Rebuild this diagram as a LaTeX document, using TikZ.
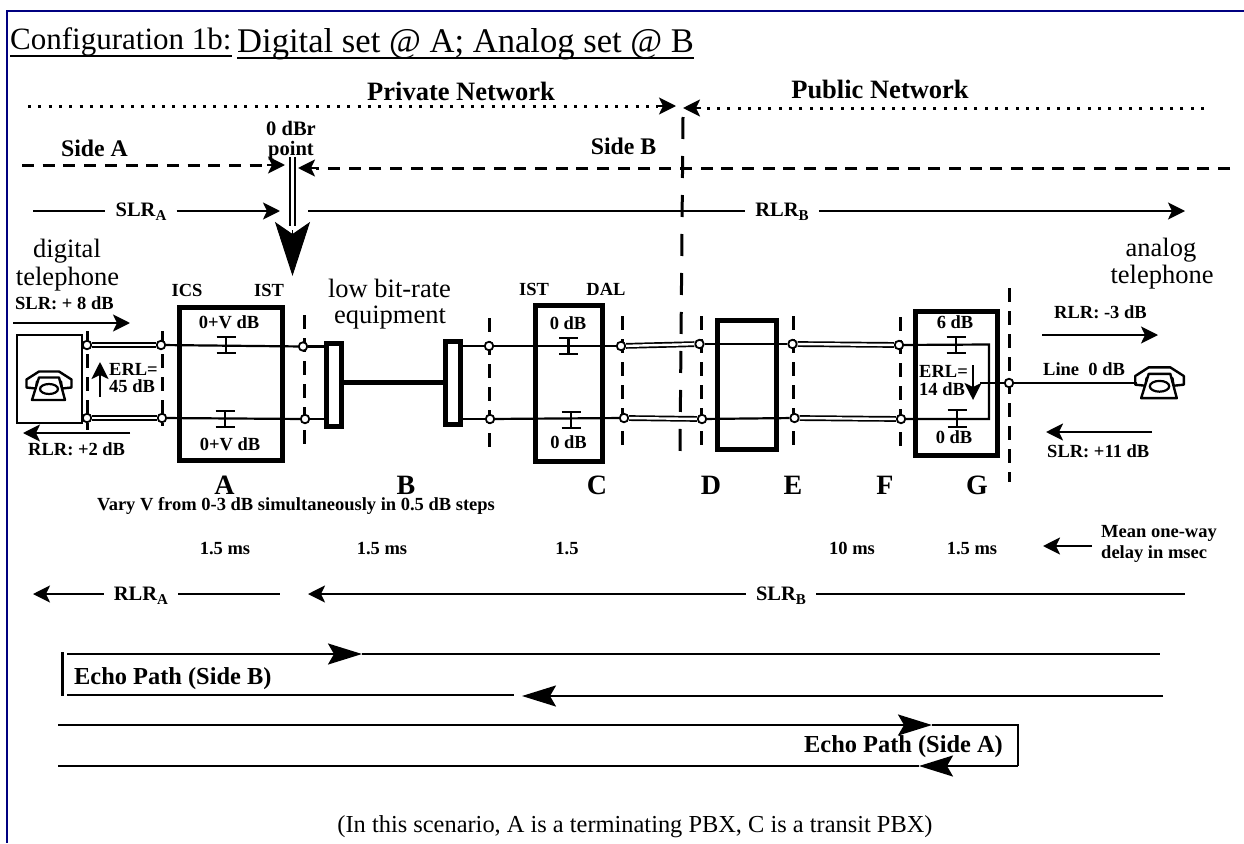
\documentclass[tikz,border=0pt]{standalone}
\usepackage{fontspec}
\setmainfont{Liberation Serif}
\usepackage{xcolor}
\usetikzlibrary{positioning}
\usetikzlibrary{arrows.meta}
\definecolor{framenavy}{RGB}{0,0,128}
\newcommand{\lowsub}[1]{\raisebox{-4pt}{\fontsize{15}{15}\selectfont #1}}
\tikzset{
    lab/.style={font=\bfseries\fontsize{18.5}{20}\selectfont, inner sep=0pt, anchor=base},
    midlab/.style={font=\bfseries\fontsize{20.5}{22}\selectfont, inner sep=0pt, anchor=base},
    biglab/.style={font=\bfseries\fontsize{26.5}{28}\selectfont, inner sep=0pt, anchor=base},
    plain/.style={font=\fontsize{26.5}{28}\selectfont, inner sep=0pt, anchor=base},
    term/.style={circle, draw, fill=white, line width=1.8pt, minimum size=8.5pt, inner sep=0pt},
    wire/.style={line width=2.2pt},
    dwire/.style={line width=1.7pt, double, double distance=2.4pt},
    cutline/.style={line width=3pt, dash pattern=on 14pt off 9pt},
    bigbox/.style={draw, line width=5pt, inner sep=0pt},
    arr/.style={line width=2.2pt, -{Stealth[length=17pt,width=17pt,inset=4pt]}},
    echo/.style={line width=2.2pt, -{Stealth[length=34pt,width=21pt,inset=6pt]}},
    phone/.pic={
        \draw[line width=2.4pt, line join=round] (-22.5,2) -- (-22.5,-6) -- (-10,-14) -- (10,-14) -- (22.5,-6) -- (22.5,2) -- (13,3) -- (12,-4) -- (-12,-4) -- (-13,3) -- cycle;
        \draw[line width=2.4pt, line join=round, fill=white] (-10,-8) -- (10,-8) -- (16,14.5) -- (-17,14.5) -- cycle;
        \draw[line width=2.2pt] (0,3.5) ellipse (9 and 5);
    }
}

\begin{document}
\begin{tikzpicture}[x=1pt,y=-1pt]
    \useasboundingbox (0,0) rectangle (1244,843);

    % Frame
    \coordinate (frameTop) at (1244,11);
    \coordinate (frameCorner) at (7,11);
    \coordinate (frameBot) at (7,843);
    \draw[framenavy, line width=2pt] (frameTop) -- (frameCorner) -- (frameBot);

    % Title
    \node[font=\fontsize{31}{33}\selectfont, inner sep=0pt, anchor=base west] (titleA) at (10,50) {Configuration 1b:};
    \node[font=\fontsize{34.6}{36}\selectfont, inner sep=0pt, anchor=base west] (titleB) at (237,52.5) {Digital set @ A; Analog set @ B};
    \draw[line width=1.5pt] ([yshift=-6pt]titleA.base west) -- ([yshift=-6pt]titleA.base east);
    \draw[line width=2pt] ([yshift=-6pt]titleB.base west) -- ([yshift=-6pt]titleB.base east);

    % Networks
    \node[biglab] (privnet) at (461,100) {Private Network};
    \node[biglab] (pubnet) at (880,98) {Public Network};
    \coordinate (privL) at (28,106);
    \coordinate (privR) at (676,106);
    \coordinate (pubL) at (683,108);
    \coordinate (pubR) at (1204,108);
    \draw[line width=3pt, dash pattern=on 3pt off 7.3pt] (privL) -- ([xshift=-18pt]privR);
    \draw[line width=3pt, dash pattern=on 3pt off 7.3pt] (pubR) -- ([xshift=18pt]pubL);
    \draw[arr] ([xshift=-18pt]privR) -- (privR);
    \draw[arr] ([xshift=18pt]pubL) -- (pubL);

    % Sides
    \node[font=\bfseries\fontsize{23.8}{25}\selectfont, inner sep=0pt, anchor=base] (sideA) at (94.5,156) {Side A};
    \node[font=\bfseries\fontsize{23.8}{25}\selectfont, inner sep=0pt, anchor=base] (sideB) at (623.5,154) {Side B};
    \node[midlab] (dbr) at (291,135) {0 dBr};
    \node[midlab] (dbrpt) at (291,155) {point};
    \coordinate (sideAL) at (22,165);
    \coordinate (sideAR) at (285,165);
    \coordinate (sideBL) at (298,168);
    \coordinate (sideBR) at (1230,168);
    \draw[line width=3pt, dash pattern=on 12pt off 8.7pt] (sideAL) -- ([xshift=-18pt]sideAR);
    \draw[line width=3pt, dash pattern=on 12pt off 8.7pt] (sideBR) -- ([xshift=18pt]sideBL);
    \draw[arr] ([xshift=-18pt]sideAR) -- (sideAR);
    \draw[arr] ([xshift=18pt]sideBL) -- (sideBL);

    % 0 dBr point
    \coordinate (zeroTop) at (292.5,157);
    \coordinate (zeroMid) at (292.5,226);
    \coordinate (zeroTip) at (292.5,276);
    \draw[line width=2pt, double, double distance=2.6pt] (zeroTop) -- (zeroMid);
    \draw[line width=1pt, -{Stealth[length=54pt,width=35pt,inset=12pt]}] ([yshift=-4pt]zeroMid) -- (zeroTip);

    % Loudness ratings
    \node[midlab] (slrA) at (141,216) {SLR\lowsub{A}};
    \node[midlab] (rlrB) at (782,216) {RLR\lowsub{B}};
    \coordinate (slrAL) at (33,211);
    \coordinate (slrAR) at (280,211);
    \coordinate (rlrBL) at (308,211);
    \coordinate (rlrBR) at (1185,211);
    \draw[wire] (slrAL) -- ([xshift=-10pt]slrA.west |- slrAL);
    \draw[arr] ([xshift=10pt]slrA.east |- slrAR) -- (slrAR);
    \draw[wire] (rlrBL) -- ([xshift=-10pt]rlrB.west |- rlrBL);
    \draw[arr] ([xshift=10pt]rlrB.east |- rlrBR) -- (rlrBR);

    % Plain labels
    \node[plain] (digital) at (67,257) {digital};
    \node[plain] (digitaltel) at (67.5,285) {telephone};
    \node[plain] (analog) at (1161,256) {analog};
    \node[plain] (analogtel) at (1162,283) {telephone};
    \node[plain] (lowbit) at (389.5,297) {low bit-rate};
    \node[plain] (lowequip) at (390,323) {equipment};

    % Phones
    \node[draw, line width=2pt, minimum width=65pt, minimum height=88pt, inner sep=0pt] (setA) at (49.5,379) {};
    \pic at (49,385.5) {phone};
    \pic[scale=1.08] at (1159.5,382.5) {phone};
    \coordinate (setB) at (1137,383);

    % Section boundaries
    \foreach \name/\x/\ya/\yb in {cutA/87/331/430, cutB/162.5/331/426, cutC/304/315/448, cutD/489.5/318/453, cutE/622/316/450, cutF/701/316/451, cutG/793/316/450, cutH/900/317/451, cutI/1009/288/482} {
        \coordinate (\name t) at (\x,\ya);
        \coordinate (\name b) at (\x,\yb);
        \draw[cutline] (\name t) -- (\name b);
    }
    \coordinate (netTop) at (683,117);
    \coordinate (netBot) at (680,452);
    \draw[line width=3pt, dash pattern=on 22pt off 17pt] (netTop) -- (netBot);

    % Boxes
    \node[bigbox, minimum width=103pt, minimum height=152.5pt] (boxA) at (230.5,384) {};
    \node[bigbox, minimum width=15pt, minimum height=83pt] (barL) at (333.5,384.5) {};
    \node[bigbox, minimum width=15pt, minimum height=83pt] (barR) at (452.5,382.5) {};
    \node[bigbox, minimum width=67pt, minimum height=155.5pt] (boxC) at (569,383.5) {};
    \node[bigbox, minimum width=58.5pt, minimum height=128.5pt] (boxE) at (746.75,384.75) {};
    \node[bigbox, minimum width=82pt, minimum height=144pt] (boxG) at (956.5,383.5) {};
    \draw[line width=5pt] (barL.east |- barR.center) -- (barR.west);

    % Terminals
    \foreach \name/\x/\y in {ta/87/345, tb/161/345, tc/303/346.5, td/489/346, te/621/346, tf/699.5/344, tg/792.5/344, th/899/345,
        ua/87/418, ub/162/418, uc/305/419, ud/490/419, ue/624/418, uf/702/419, ug/794.5/418, uh/901/419, tline/1009/383} {
        \node[term] (\name) at (\x,\y) {};
    }

    % Wires
    \draw[dwire] (ta) -- (tb);
    \draw[dwire] (ua) -- (ub);
    \draw[wire] (tb) -- (tc);
    \draw[wire] (ub) -- (uc);
    \draw[wire] (tc) -- (tc -| barL.west);
    \draw[wire] (uc) -- (uc -| barL.west);
    \draw[wire] (td) -- (td -| barR.east);
    \draw[wire] (ud) -- (ud -| barR.east);
    \draw[wire] (td) -- (te);
    \draw[wire] (ud) -- (ue);
    \draw[dwire] (te) -- (tf);
    \draw[dwire] (ue) -- (uf);
    \draw[wire] (tf) -- (tg);
    \draw[wire] (uf) -- (ug);
    \draw[dwire] (tg) -- (th);
    \draw[dwire] (ug) -- (uh);
    \coordinate (hybT) at (989,344.5);
    \coordinate (hybB) at (989,419);
    \coordinate (hybJ) at (980,383);
    \draw[wire] (th) -- (hybT) -- (hybB) -- (uh);
    \draw[wire] (hybJ) -- (tline);
    \draw[wire] (tline) -- (setB);

    % Pads
    \foreach \name/\x/\ya/\yb in {padA/226/337/353, padB/225/411/427, padC/568.5/338/354, padD/571/412/428, padE/956/337/353, padF/957/410/427} {
        \coordinate (\name t) at (\x,\ya);
        \coordinate (\name b) at (\x,\yb);
        \draw[wire] (\name t) -- (\name b);
        \draw[wire] ([xshift=-9.5pt]\name t) -- ([xshift=9.5pt]\name t);
        \draw[wire] ([xshift=-9.5pt]\name b) -- ([xshift=9.5pt]\name b);
    }

    % Box labels
    \node[lab] (ics) at (187,296) {ICS};
    \node[lab] (istA) at (269,296) {IST};
    \node[lab] (istC) at (534,295) {IST};
    \node[lab] (dal) at (606,295) {DAL};
    \node[lab] (gainA) at (229,328) {0+V dB};
    \node[lab] (gainB) at (230,450) {0+V dB};
    \node[lab] (gainC) at (568,329) {0 dB};
    \node[lab] (gainD) at (568.5,448) {0 dB};
    \node[lab] (gainE) at (955,328) {6 dB};
    \node[lab] (gainF) at (954,443) {0 dB};

    % Echo return loss
    \node[lab, anchor=base west] (erlA) at (109,375) {ERL=};
    \node[lab, anchor=base west] (erlAv) at (109,392) {45 dB};
    \node[lab, anchor=base west] (erlB) at (919,377) {ERL=};
    \node[lab, anchor=base west] (erlBv) at (919,395) {14 dB};
    \coordinate (erlAs) at (100,397);
    \coordinate (erlAe) at (100,362);
    \coordinate (erlBs) at (973,365);
    \coordinate (erlBe) at (973,400);
    \draw[arr] (erlAs) -- (erlAe);
    \draw[arr] (erlBs) -- (erlBe);

    % Phone ratings
    \node[lab, anchor=base west] (slrPhA) at (15,309) {SLR: + 8 dB};
    \node[lab, anchor=base west] (rlrPhA) at (28,455) {RLR: +2 dB};
    \node[lab, anchor=base west] (rlrPhB) at (1054,318) {RLR: -3 dB};
    \node[lab, anchor=base west] (linePh) at (1043,375) {Line\ \ 0 dB};
    \node[lab, anchor=base west] (slrPhB) at (1047,457) {SLR: +11 dB};
    \coordinate (a1s) at (13,323);
    \coordinate (a1e) at (130,323);
    \coordinate (a2s) at (130,433);
    \coordinate (a2e) at (23,433);
    \coordinate (a3s) at (1042,335);
    \coordinate (a3e) at (1158,335);
    \coordinate (a4s) at (1152,432);
    \coordinate (a4e) at (1046,432);
    \draw[arr] (a1s) -- (a1e);
    \draw[arr] (a2s) -- (a2e);
    \draw[arr] (a3s) -- (a3e);
    \draw[arr] (a4s) -- (a4e);

    % Section letters
    \foreach \name/\x in {A/224.5, B/406, C/597, D/711, E/793, F/885, G/977} {
        \node[font=\bfseries\fontsize{28}{30}\selectfont, inner sep=0pt, anchor=base] (sec\name) at (\x,494) {\name};
    }
    \node[lab] (vary) at (296,510) {Vary V from 0-3 dB simultaneously in 0.5 dB steps};

    % Delays
    \node[lab] (dlyA) at (225,554) {1.5 ms};
    \node[lab] (dlyB) at (382,554) {1.5 ms};
    \node[lab] (dlyC) at (567,554) {1.5};
    \node[lab] (dlyF) at (852,554) {10 ms};
    \node[lab] (dlyG) at (972,554) {1.5 ms};
    \node[lab, anchor=base west] (mean) at (1101,537) {Mean one-way};
    \node[lab, anchor=base west] (meanb) at (1101,558) {delay in msec};
    \coordinate (dlys) at (1092,546);
    \coordinate (dlye) at (1043,546);
    \draw[arr] (dlys) -- (dlye);

    % Return row
    \node[midlab] (rlrA) at (141,600) {RLR\lowsub{A}};
    \node[midlab] (slrB) at (781,600) {SLR\lowsub{B}};
    \coordinate (rlrAL) at (33,594);
    \coordinate (rlrAR) at (280,594);
    \coordinate (slrBL) at (308,594);
    \coordinate (slrBR) at (1185,594);
    \draw[arr] ([xshift=-10pt]rlrA.west |- rlrAL) -- (rlrAL);
    \draw[wire] ([xshift=10pt]rlrA.east |- rlrAR) -- (rlrAR);
    \draw[arr] ([xshift=-10pt]slrB.west |- slrBL) -- (slrBL);
    \draw[wire] ([xshift=10pt]slrB.east |- slrBR) -- (slrBR);

    % Echo path, side B
    \node[font=\bfseries\fontsize{24.4}{26}\selectfont, inner sep=0pt, anchor=base west] (echoB) at (74,684) {Echo Path (Side B)};
    \coordinate (ebTL) at (67,654);
    \coordinate (ebTA) at (362,654);
    \coordinate (ebTR) at (1160,654);
    \coordinate (ebBL) at (67,695);
    \coordinate (ebBM) at (514,695);
    \coordinate (ebBA) at (522,696);
    \coordinate (ebBR) at (1163,696);
    \coordinate (ebVt) at (62.5,652);
    \coordinate (ebVb) at (62.5,696);
    \draw[wire] (ebVt) -- (ebVb);
    \draw[echo] (ebTL) -- (ebTA);
    \draw[wire] (ebTA) -- (ebTR);
    \draw[wire] (ebBL) -- (ebBM);
    \draw[echo] (ebBR) -- (ebBA);

    % Echo path, side A
    \node[font=\bfseries\fontsize{24.4}{26}\selectfont, inner sep=0pt, anchor=base east] (echoA) at (1003,752.5) {Echo Path (Side A)};
    \coordinate (eaTL) at (58,725);
    \coordinate (eaTA) at (932,725);
    \coordinate (eaTR) at (1018,725);
    \coordinate (eaBL) at (58,766);
    \coordinate (eaBA) at (919,766);
    \coordinate (eaBR) at (1018,766);
    \draw[echo] (eaTL) -- (eaTA);
    \draw[wire] (eaTA) -- (eaTR) -- (eaBR);
    \draw[echo] (eaBR) -- (eaBA);
    \draw[wire] (eaBA) -- (eaBL);

    % Note
    \node[font=\fontsize{24.4}{26}\selectfont, inner sep=0pt, anchor=base] (note) at (635,832) {(In this scenario, A is a terminating PBX, C is a transit PBX)};
\end{tikzpicture}
\end{document}
